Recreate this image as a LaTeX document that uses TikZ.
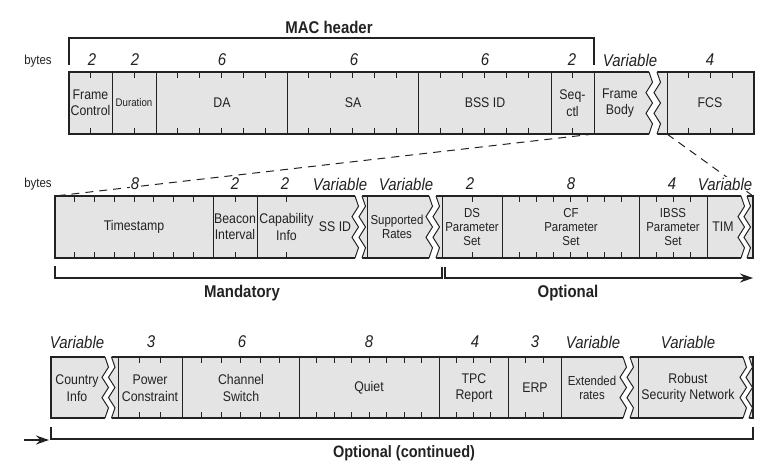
\documentclass[tikz,border=0pt]{standalone}
\usepackage{fontspec}
\setmainfont{Liberation Sans}[FakeStretch=0.88]
\usepackage{tikz}
\usetikzlibrary{arrows.meta}
\definecolor{fgray}{HTML}{E4E4E4}
\definecolor{fink}{HTML}{222222}
\tikzset{
  px/.style={x=1pt, y=-1pt, line join=miter},
  f row/.style={fill=fgray, draw=fink, line width=1.1pt},
  f div/.style={draw=fink, line width=1pt},
  f tick/.style={draw=fink, line width=0.8pt},
  f txt/.style={text=fink, align=center, inner sep=0pt, font=\fontsize{14}{16.5}\selectfont},
  f sm/.style={f txt, font=\fontsize{13}{14}\selectfont},
  f num/.style={text=fink, fill=white, inner sep=1pt, font=\fontsize{17}{20}\selectfont\itshape},
  f bytes/.style={text=fink, font=\fontsize{13}{15}\selectfont},
  f title/.style={text=fink, font=\fontsize{17}{20}\selectfont\bfseries},
  f brk/.style={draw=fink, line width=1.5pt},
  f zoom/.style={draw=fink, line width=1pt, dash pattern=on 8pt off 6pt},
  f arr/.style={f brk, -{Stealth[length=13pt, width=9pt]}},
}
% ticks: x1, x2, bytes, top, bottom
\newcommand\fticks[5]{%
  \pgfmathsetmacro\fstep{(#2-#1)/#3}%
  \pgfmathtruncatemacro\flast{#3-1}%
  \foreach \i in {1,...,\flast}{%
    \draw[f tick] ({#1+\i*\fstep},#4) -- ++(0,6) ({#1+\i*\fstep},#5) -- ++(0,-6);}}
% break: x, gap, top, bottom
\newcommand\fbreak[4]{%
  \fill[white] (#1,#3-1) -- (#1,#3)
    \foreach \k/\o in {1/3.5,2/-3,3/3.5,4/-3,5/3.5,6/0}{ -- ({#1+(\o)},{#3+(#4-#3)*\k/6}) }
    -- (#1,#4+1) -- (#1+#2,#4+1) -- (#1+#2,#4)
    \foreach \k/\o in {5/3.5,4/-3,3/3.5,2/-3,1/3.5,0/0}{ -- ({#1+#2+(\o)},{#3+(#4-#3)*\k/6}) }
    -- (#1+#2,#3-1) -- cycle;
  \draw[f div] (#1,#3) \foreach \k/\o in {1/3.5,2/-3,3/3.5,4/-3,5/3.5,6/0}{ -- ({#1+(\o)},{#3+(#4-#3)*\k/6}) };
  \draw[f div] (#1+#2,#3) \foreach \k/\o in {1/3.5,2/-3,3/3.5,4/-3,5/3.5,6/0}{ -- ({#1+#2+(\o)},{#3+(#4-#3)*\k/6}) };}

\begin{document}
\begin{tikzpicture}[px]
\useasboundingbox (0,0) rectangle (776,476);
% MAC header
\node[f title] (mac) at (329,27) {MAC header};
\draw[f brk] (69,65) -- (69,38) -- (594,38) -- (594,65);
\node[f bytes] (by1) at (38,61) {bytes};
\draw[f row] (69,72) rectangle (754,134);
\foreach \xa/\xb/\n in {69/112/2, 112/156/2, 156/287/6, 287/418/6, 418/551/6, 551/594/2, 667/754/4}{
  \draw[f div] (\xa,72) -- (\xa,134); \fticks{\xa}{\xb}{\n}{72}{134}}
\draw[f div] (594,72) -- (594,134);
\fbreak{649}{8}{72}{134}
% frame body fields
\coordinate (fbL) at (594,134); \coordinate (fcsL) at (667,134);
\coordinate (tsL) at (55,196); \coordinate (timR) at (753,196);
\draw[f zoom] (fbL) -- (tsL); \draw[f zoom] (fcsL) -- (timR);
\node[f bytes] (by2) at (38,184) {bytes};
\draw[f row] (55,196) rectangle (753,258);
\foreach \xa/\xb/\n in {55/213/8, 213/257/2, 257/316/2, 442/502/2, 502/639/8, 639/707/4}{
  \draw[f div] (\xa,196) -- (\xa,258); \fticks{\xa}{\xb}{\n}{196}{258}}
\foreach \xa in {367, 707}{ \draw[f div] (\xa,196) -- (\xa,258); }
\fbreak{355}{7}{196}{258} \fbreak{429}{7}{196}{258} \fbreak{741}{6}{196}{258}
% continued fields
\draw[f row] (51,357) rectangle (753,418);
\foreach \xa/\xb/\n in {118/182/3, 182/299/6, 299/439/8, 439/508/4, 508/561/3}{
  \draw[f div] (\xa,357) -- (\xa,418); \fticks{\xa}{\xb}{\n}{357}{418}}
\foreach \xa in {561, 638}{ \draw[f div] (\xa,357) -- (\xa,418); }
\fbreak{105}{6.5}{357}{418} \fbreak{623}{7}{357}{418} \fbreak{743}{6}{357}{418}
% byte counts
\node[f num] (n11) at (92,60) {2}; \node[f num] (n12) at (135,60) {2}; \node[f num] (n13) at (222,60) {6};
\node[f num] (n14) at (354,60) {6}; \node[f num] (n15) at (485,60) {6}; \node[f num] (n16) at (572,60) {2};
\node[f num] (n17) at (630,60) {Variable}; \node[f num] (n18) at (710,60) {4};
\node[f num] (n21) at (135,184) {8}; \node[f num] (n22) at (235,184) {2}; \node[f num] (n23) at (285,184) {2};
\node[f num] (n24) at (340,184) {Variable}; \node[f num] (n25) at (406,184) {Variable}; \node[f num] (n26) at (470,184) {2};
\node[f num] (n27) at (571,184) {8}; \node[f num] (n28) at (672,184) {4}; \node[f num] (n29) at (725,184) {Variable};
\node[f num] (n31) at (77,342) {Variable}; \node[f num] (n32) at (151,342) {3}; \node[f num] (n33) at (242,342) {6};
\node[f num] (n34) at (369,342) {8}; \node[f num] (n35) at (475,342) {4}; \node[f num] (n36) at (535,342) {3};
\node[f num] (n37) at (593,342) {Variable}; \node[f num] (n38) at (688,342) {Variable};
% field names
\node[f txt] (fc) at (90.5,103) {Frame\\Control};
\node[f txt, font=\fontsize{11}{13}\selectfont] (dur) at (134,103) {Duration};
\node[f txt] (da) at (222,103) {DA}; \node[f txt] (sa) at (353,103) {SA}; \node[f txt] (bss) at (485,103) {BSS ID};
\node[f txt] (seq) at (572.5,103) {Seq-\\ctl}; \node[f txt] (fb) at (620,103) {Frame\\Body}; \node[f txt] (fcs) at (710,103) {FCS};
\node[f txt] (ts) at (134,227) {Timestamp}; \node[f txt] (bi) at (235,227) {Beacon\\Interval};
\node[f txt] (ci) at (286.5,227) {Capability\\Info}; \node[f txt] (ssid) at (335,227) {SS ID};
\node[f sm] (sr) at (397,227) {Supported\\Rates}; \node[f sm] (ds) at (472,227) {DS\\Parameter\\Set};
\node[f sm] (cf) at (571,227) {CF\\Parameter\\Set}; \node[f sm] (ibss) at (673,227) {IBSS\\Parameter\\Set};
\node[f txt] (tim) at (723,227) {TIM};
\node[f txt] (cty) at (77,388) {Country\\Info}; \node[f txt] (pc) at (150,388) {Power\\Constraint};
\node[f txt] (cs) at (241,388) {Channel\\Switch}; \node[f txt] (qt) at (369,388) {Quiet};
\node[f txt] (tpc) at (474,388) {TPC\\Report}; \node[f txt] (erp) at (535,388) {ERP};
\node[f sm] (ext) at (592,388) {Extended\\rates}; \node[f txt] (rsn) at (688,388) {Robust\\Security Network};
% brackets
\draw[f brk] (55,266) -- (55,278) -- (442,278) -- (442,267);
\draw[f arr] (445,267) -- (445,278) -- (753,278);
\node[f title] (mand) at (242,293) {Mandatory}; \node[f title] (opt) at (568,293) {Optional};
\draw[f brk] (51,427) -- (51,439) -- (753,439) -- (753,427);
\coordinate (inA) at (24,440); \coordinate (inB) at (49,440);
\draw[f arr] (inA) -- (inB);
\node[f title, font=\fontsize{16.5}{20}\selectfont\bfseries] (optc) at (404,453) {Optional (continued)};
\end{tikzpicture}
\end{document}
